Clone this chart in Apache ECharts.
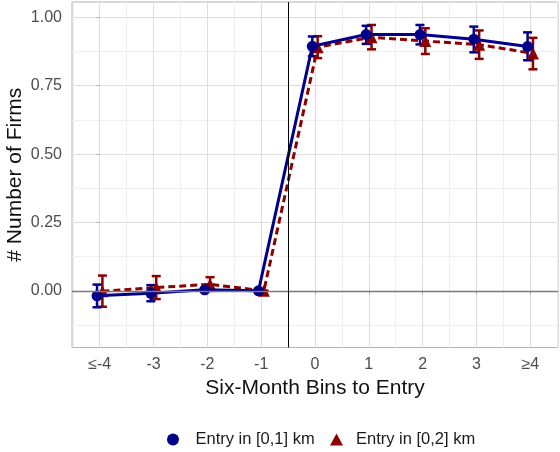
<!DOCTYPE html>
<html>
<head>
<meta charset="utf-8">
<script src="https://cdn.jsdelivr.net/npm/echarts@6/dist/echarts.min.js"></script>
<style>
  html, body { margin: 0; padding: 0; background: #ffffff; }
  #chart { width: 560px; height: 452px; }
</style>
</head>
<body>
<div id="chart"></div>
<script>
// Six-month bins relative to entry
const binLabels = ['≤-4', '-3', '-2', '-1', '0', '1', '2', '3', '≥4'];
const yTicks = [0, 0.25, 0.5, 0.75, 1];
const seriesNames = ['Entry in [0,1] km', 'Entry in [0,2] km'];
// entry happens between bin "-1" (index 3) and bin "0" (index 4)
const entryBreak = 3.5;

// Entry within 1 km: estimate and confidence bounds
const near1Est = [-0.018, -0.009, 0.004, 0.000, 0.894, 0.937, 0.937, 0.920, 0.893];
const near1Lo  = [-0.060, -0.038, -0.002, 0.000, 0.858, 0.903, 0.901, 0.872, 0.843];
const near1Hi  = [ 0.023,  0.021, 0.010, 0.000, 0.930, 0.969, 0.972, 0.966, 0.945];

// Entry within 2 km: estimate and confidence bounds
const near2Est = [-0.001, 0.012, 0.024, 0.000, 0.891, 0.927, 0.913, 0.900, 0.868];
const near2Lo  = [-0.058, -0.030, 0.000, 0.000, 0.851, 0.883, 0.866, 0.848, 0.810];
const near2Hi  = [ 0.056,  0.054, 0.050, 0.000, 0.931, 0.972, 0.960, 0.952, 0.925];

const BLUE = '#00008B';
const RED = '#8B0000';
const DODGE = 0.05;
const FONT = '"Liberation Sans", Arial, Helvetica, sans-serif';

const pts = (est, shift) => est.map((v, i) => [i + shift, v]);
const ranges = (lo, hi, shift) => lo.map((l, i) => [i + shift, l, hi[i]]);

function errorBar(color) {
  return function (params, api) {
    const x = api.value(0);
    const a = api.coord([x, api.value(1)]);
    const b = api.coord([x, api.value(2)]);
    const cap = 4.5;
    const style = { stroke: color, lineWidth: 2.5, fill: null };
    return {
      type: 'group',
      children: [
        { type: 'line', shape: { x1: a[0], y1: a[1], x2: b[0], y2: b[1] }, style },
        { type: 'line', shape: { x1: a[0] - cap, y1: a[1], x2: a[0] + cap, y2: a[1] }, style },
        { type: 'line', shape: { x1: b[0] - cap, y1: b[1], x2: b[0] + cap, y2: b[1] }, style }
      ]
    };
  };
}

const chart = echarts.init(document.getElementById('chart'), null, { renderer: 'canvas' });

chart.setOption({
  animation: false,
  backgroundColor: '#ffffff',
  textStyle: { fontFamily: FONT },
  grid: {
    left: 72, right: 2, top: 2, bottom: 104.5,
    outerBoundsMode: 'none',
    show: true, borderColor: '#b3b3b3', borderWidth: 1, backgroundColor: 'transparent'
  },
  legend: [
    {
      data: [{ name: seriesNames[0], icon: 'circle' }],
      left: 167, top: 431, padding: 0,
      itemWidth: 13, itemHeight: 12,
      textStyle: { fontSize: 16.5, color: '#1a1a1a', fontFamily: FONT, padding: [0, 0, 0, 11] }
    },
    {
      data: [{ name: seriesNames[1], icon: 'triangle' }],
      left: 330, top: 431, padding: 0,
      itemWidth: 13, itemHeight: 12,
      textStyle: { fontSize: 16.5, color: '#1a1a1a', fontFamily: FONT, padding: [0, 0, 0, 8] }
    }
  ],
  xAxis: {
    type: 'value',
    min: -0.515, max: 8.515,
    minInterval: 1, maxInterval: 1, splitNumber: 5,
    name: 'Six-Month Bins to Entry',
    nameLocation: 'middle', nameGap: 30, nameMoveOverlap: false,
    nameTextStyle: { fontSize: 21, color: '#111111', fontFamily: FONT },
    axisLine: { show: false },
    axisTick: { show: true, customValues: binLabels.map((_, i) => i), length: 4, lineStyle: { color: '#b3b3b3' } },
    axisLabel: {
      customValues: binLabels.map((_, i) => i),
      formatter: v => binLabels[Math.round(v)],
      fontSize: 16, color: '#4d4d4d', margin: 9, fontFamily: FONT
    },
    splitLine: { show: true, lineStyle: { color: '#dedede', width: 1 } },
    minorTick: { show: false, splitNumber: 2 },
    minorSplitLine: { show: true, lineStyle: { color: '#efefef', width: 1 } }
  },
  yAxis: {
    type: 'value',
    min: -0.207, max: 1.056,
    minInterval: 0.25, maxInterval: 0.25, splitNumber: 5,
    name: '# Number of Firms',
    nameLocation: 'middle', nameGap: 46, nameMoveOverlap: false,
    nameTextStyle: { fontSize: 21, color: '#111111', fontFamily: FONT },
    axisLine: { show: false },
    axisTick: { show: true, customValues: yTicks, length: 4, lineStyle: { color: '#b3b3b3' } },
    axisLabel: {
      customValues: yTicks,
      formatter: v => v.toFixed(2),
      fontSize: 16, color: '#4d4d4d', margin: 10, fontFamily: FONT
    },
    splitLine: { show: true, lineStyle: { color: '#dedede', width: 1 } },
    minorTick: { show: false, splitNumber: 2 },
    minorSplitLine: { show: true, lineStyle: { color: '#efefef', width: 1 } }
  },
  series: [
    {
      // reference lines: zero effect and entry date
      type: 'line', data: [], silent: true, z: 1,
      markLine: {
        silent: true, symbol: ['none', 'none'], label: { show: false },
        data: [
          { yAxis: 0, lineStyle: { color: '#7a7a7a', width: 1.3, type: 'solid' } },
          { xAxis: entryBreak, lineStyle: { color: '#000000', width: 1, type: 'solid' } }
        ]
      }
    },
    {
      name: seriesNames[1] + ' ci', type: 'custom', z: 2,
      renderItem: errorBar(RED),
      encode: { x: 0, y: [1, 2] },
      data: ranges(near2Lo, near2Hi, DODGE)
    },
    {
      name: seriesNames[0] + ' ci', type: 'custom', z: 2,
      renderItem: errorBar(BLUE),
      encode: { x: 0, y: [1, 2] },
      data: ranges(near1Lo, near1Hi, -DODGE)
    },
    {
      name: seriesNames[1], type: 'line', z: 3,
      data: pts(near2Est, DODGE),
      symbol: 'triangle', symbolSize: 12, showSymbol: true,
      itemStyle: { color: RED },
      lineStyle: { color: RED, width: 3, type: [7, 4] }
    },
    {
      name: seriesNames[0], type: 'line', z: 4,
      data: pts(near1Est, -DODGE),
      symbol: 'circle', symbolSize: 11, showSymbol: true,
      itemStyle: { color: BLUE },
      lineStyle: { color: BLUE, width: 3, type: 'solid' }
    }
  ]
});
</script>
</body>
</html>
